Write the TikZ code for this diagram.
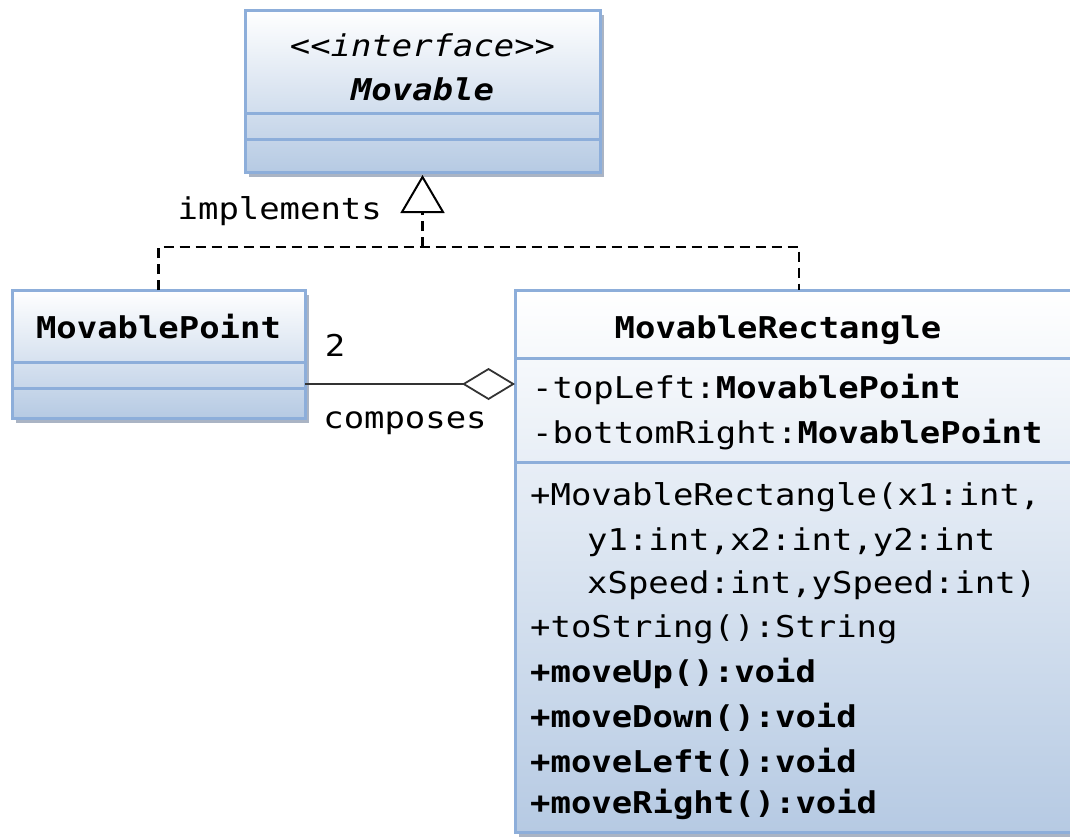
\documentclass[tikz,border=0pt]{standalone}
\usepackage{fontspec}
\newfontfamily\cons[FakeStretch=1.13]{DejaVu Sans Mono}
\usetikzlibrary{arrows.meta,shadows}
\definecolor{bord}{HTML}{8DAEDA}
\definecolor{fillb}{HTML}{B6CAE3}
\definecolor{shad}{HTML}{8E9BB0}
\begin{document}
\begin{tikzpicture}[x=1pt,y=-1pt,
  classbox/.style={draw=bord, line width=3pt, top color=white, bottom color=fillb,
    drop shadow={shadow xshift=4pt,shadow yshift=-5pt,fill=shad,opacity=0.75},
    inner sep=0pt, outer sep=0pt, anchor=north west},
  sepline/.style={draw=bord, line width=3pt},
  txt/.style={font=\cons\fontsize{30}{36}\selectfont, inner sep=0pt, anchor=base west},
  txtb/.style={font=\cons\fontsize{30}{36}\selectfont\bfseries, inner sep=0pt, anchor=base},
  txti/.style={font=\cons\fontsize{30}{36}\selectfont\itshape, inner sep=0pt, anchor=base},
  txtbi/.style={font=\cons\fontsize{30}{36}\selectfont\bfseries\itshape, inner sep=0pt, anchor=base},
  realline/.style={draw=black, line width=2.6pt, dash pattern=on 10pt off 6pt},
  aggline/.style={draw=black!80, line width=2.2pt}]
\useasboundingbox (0,0) rectangle (1070,836);
\clip (0,0) rectangle (1070,836);

% Movable interface
\node[classbox, minimum width=355pt, minimum height=162pt] (movable) at (245,10) {};
\draw[sepline] (245,113) -- (600,113);
\draw[sepline] (245,139) -- (600,139);
\node[txti] (mvst) at (422.5,56) {<{}<interface>{}>};
\node[txtbi] (mvname) at (422.5,100) {Movable};

% MovablePoint
\node[classbox, minimum width=293pt, minimum height=128pt] (mp) at (12,290) {};
\draw[sepline] (12,362) -- (305,362);
\draw[sepline] (12,388) -- (305,388);
\node[txtb] (mpname) at (158.5,338) {MovablePoint};

% MovableRectangle
\node[classbox, minimum width=568pt, minimum height=542pt] (mr) at (515,290) {};
\draw[sepline] (515,358) -- (1083,358);
\draw[sepline] (515,462) -- (1083,462);
\node[txtb] (mrname) at (778,338) {MovableRectangle};
\node[txt] (a1) at (532,398) {-topLeft:\textbf{MovablePoint}};
\node[txt] (a2) at (532,443) {-bottomRight:\textbf{MovablePoint}};
\node[txt] (m1) at (530,505) {+MovableRectangle(x1:int,};
\node[txt] (m2) at (587,550) {y1:int,x2:int,y2:int};
\node[txt] (m3) at (587,593) {xSpeed:int,ySpeed:int)};
\node[txt] (m4) at (530,637) {+toString():String};
\node[txt] (m5) at (530,682) {\textbf{+moveUp():void}};
\node[txt] (m6) at (530,727) {\textbf{+moveDown():void}};
\node[txt] (m7) at (530,772) {\textbf{+moveLeft():void}};
\node[txt] (m8) at (530,813) {\textbf{+moveRight():void}};

% realization
\coordinate (jy) at (0,247);
\coordinate (jn) at (movable.south |- jy);
\draw[realline] (mp.north) |- (jn) -| (mr.north);
\draw[realline, -{Triangle[fill=white, length=38pt, width=44pt, line width=2pt]}] (jn) -- ([yshift=-3pt]movable.south);
\node[txt, anchor=base east] (impl) at (382,219) {implements};

% aggregation
\coordinate (ay) at (0,384);
\draw[aggline, -{Diamond[fill=white, length=53pt, width=32pt, line width=1.8pt]}] (mp.east |- ay) -- (mr.west |- ay);
\node[txt, anchor=base] (mult) at (335,356) {2};
\node[txt, anchor=base] (comp) at (405,428) {composes};
\end{tikzpicture}
\end{document}
